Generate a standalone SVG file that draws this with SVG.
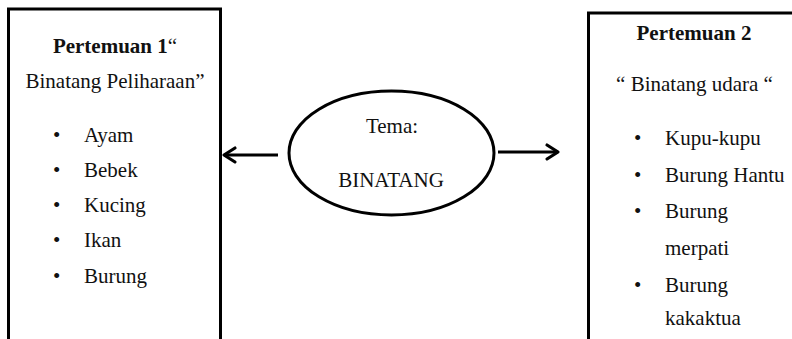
<svg xmlns="http://www.w3.org/2000/svg" width="792" height="339" viewBox="0 0 792 339">
  <style>
    .box { fill: #fff; stroke: #000; stroke-width: 3; }
    .txt { font-family: 'Liberation Serif', 'Times New Roman', Times, serif; font-size: 21px; fill: #111; }
    .b { font-weight: bold; }
    .mid { text-anchor: middle; }
    .link { stroke: #000; stroke-width: 3; fill: none; }
    .head { stroke: #000; stroke-width: 3.2; fill: none; stroke-linecap: round; stroke-linejoin: round; }
  </style>
  <rect width="792" height="339" fill="#fff"/>

  <!-- Session 1 -->
  <g id="pertemuan1">
    <rect class="box" x="8.5" y="9" width="212" height="345"/>
    <text class="txt b mid" x="115" y="53">Pertemuan 1<tspan font-weight="normal">“</tspan></text>
    <text class="txt mid" x="115" y="88">Binatang Peliharaan”</text>
    <g class="txt">
      <text x="53" y="142">•</text><text x="84" y="142">Ayam</text>
      <text x="53" y="177">•</text><text x="84" y="177">Bebek</text>
      <text x="53" y="212">•</text><text x="84" y="212">Kucing</text>
      <text x="53" y="247">•</text><text x="84" y="247">Ikan</text>
      <text x="53" y="283">•</text><text x="84" y="283">Burung</text>
    </g>
  </g>

  <!-- Theme -->
  <g id="tema">
    <ellipse cx="391.5" cy="153" rx="102.5" ry="62" fill="#fff" stroke="#000" stroke-width="3"/>
    <text class="txt mid" x="392" y="133">Tema:</text>
    <text class="txt mid" x="391" y="187">BINATANG</text>
  </g>

  <!-- Session 2 -->
  <g id="pertemuan2">
    <rect class="box" x="588.5" y="13" width="220" height="345"/>
    <text class="txt b mid" x="694" y="40">Pertemuan 2</text>
    <text class="txt mid" x="694.5" y="91">“ Binatang udara “</text>
    <g class="txt">
      <text x="634" y="145">•</text><text x="665" y="145">Kupu-kupu</text>
      <text x="634" y="182">•</text><text x="665" y="182">Burung Hantu</text>
      <text x="634" y="218">•</text><text x="665" y="218">Burung</text>
      <text x="665" y="255">merpati</text>
      <text x="634" y="292">•</text><text x="665" y="292">Burung</text>
      <text x="665" y="325">kakaktua</text>
    </g>
  </g>

  <!-- Connectors -->
  <g id="connectors">
    <line class="link" x1="278" y1="155" x2="224" y2="155"/>
    <polyline class="head" points="235,148 224,155 235,162"/>
    <line class="link" x1="498" y1="152" x2="558" y2="152"/>
    <polyline class="head" points="547,145 558,152 547,159"/>
  </g>
</svg>
